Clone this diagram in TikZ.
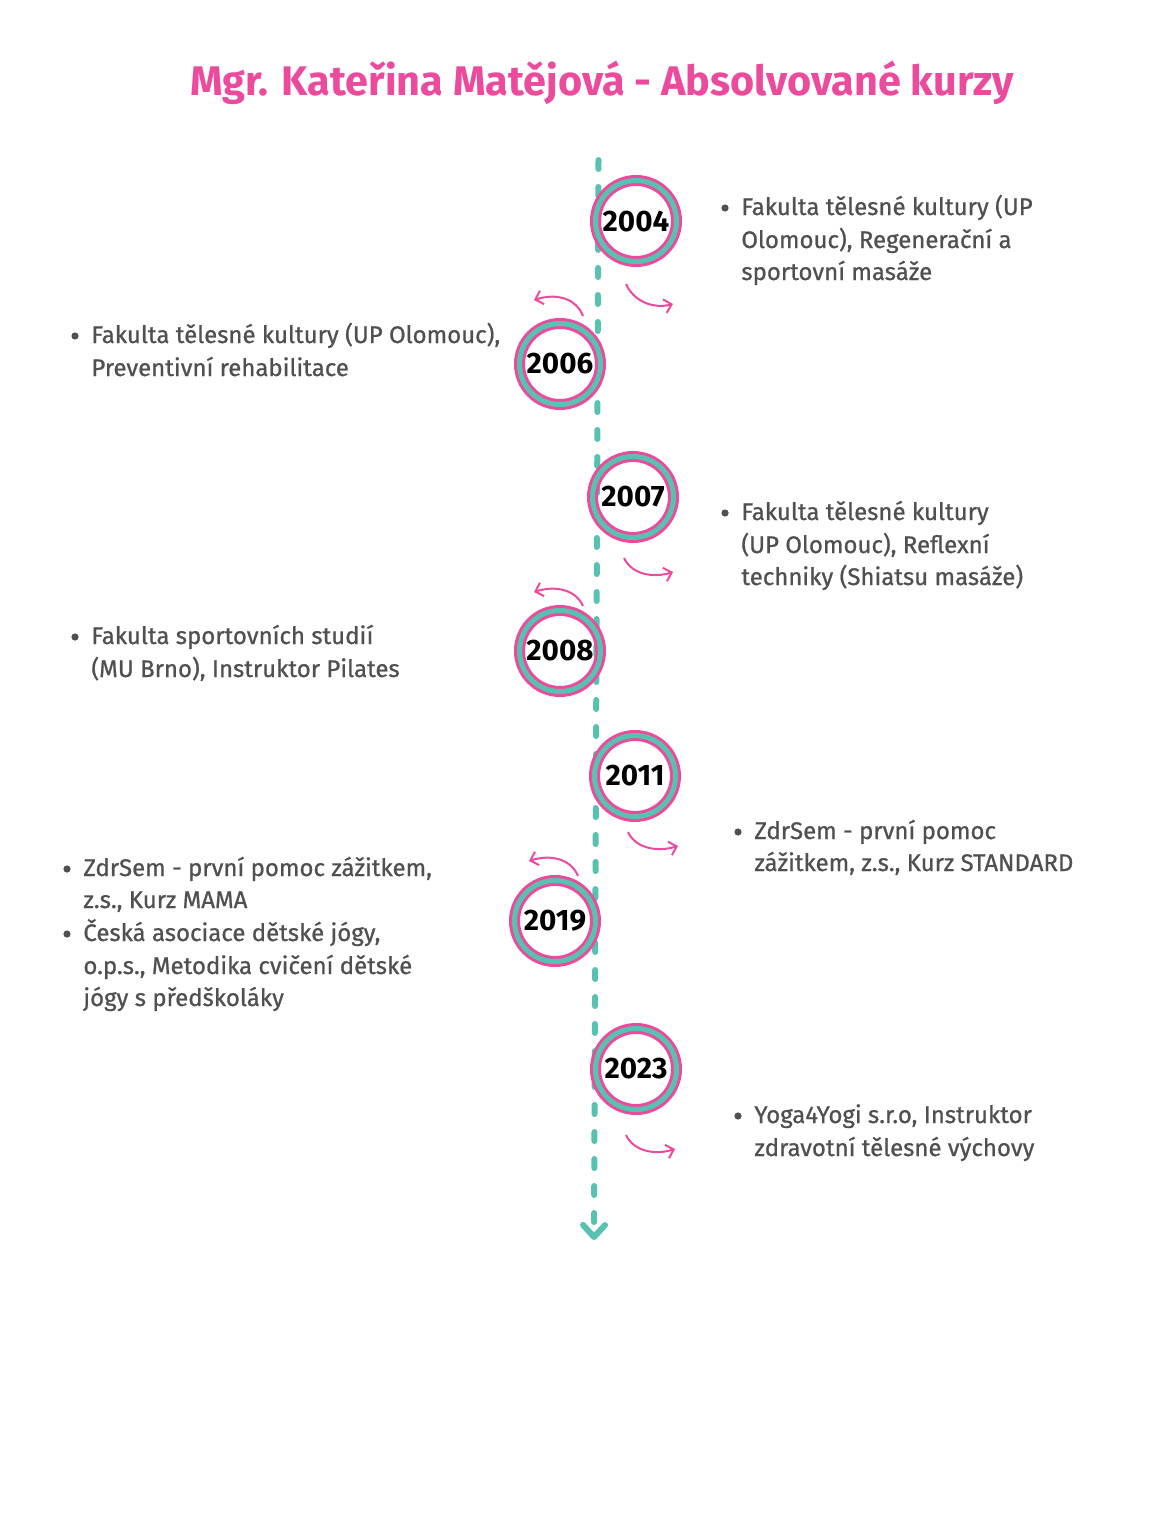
\documentclass[tikz,border=0pt]{standalone}
\usepackage{fontspec}
\setmainfont{Fira Sans}
\newfontfamily\bodyfont{Fira Sans}[FakeBold=0.8]
\usetikzlibrary{arrows.meta}
\definecolor{rosa}{HTML}{EC4A9C}
\definecolor{mint}{HTML}{58C2B1}
\definecolor{greytext}{HTML}{505050}
\tikzset{
  year/.style={circle, draw=rosa, line width=1.5pt, double=mint, double distance=2.5pt,
    minimum size=40.5pt, inner sep=0pt, font=\bfseries\fontsize{14.8}{14.8}\selectfont},
  line/.style={anchor=base west, inner sep=0pt, text=greytext, font=\bodyfont\fontsize{12}{16.5}\selectfont},
  dot/.style={circle, fill=greytext, inner sep=0pt, minimum size=3.6pt},
  swing/.style={draw=rosa, line width=1pt, -{Straight Barb[length=3.5pt, width=7pt, line width=1pt]}},
}
\begin{document}
\begin{tikzpicture}[x=0.5pt, y=-0.5pt]
\useasboundingbox[fill=white] (0,0) rectangle (1167,1536);

\node[anchor=base, inner sep=0pt, text=rosa, font=\bfseries\fontsize{20.7}{20.7}\selectfont] (title) at (602,96) {Mgr. Kateřina Matějová - Absolvované kurzy};

\coordinate (top) at (598.5,160);
\coordinate (bottom) at (594,1240);
\draw[mint, line width=3pt, line cap=round, dash pattern=on 4.5pt off 9pt,
  -{Straight Barb[length=6pt, width=11pt, line width=3pt, round]}] (top) -- (bottom);

\node[year] (y2004) at (636,221) {2004};
\node[year] (y2006) at (560,364) {2006};
\node[year] (y2007) at (633,497) {2007};
\node[year] (y2008) at (560,651) {2008};
\node[year] (y2011) at (635,776) {2011};
\node[year] (y2019) at (555,921) {2019};
\node[year] (y2023) at (636,1069) {2023};

\coordinate (s04) at (626,284);
\coordinate (e04) at (673,304);
\draw[swing] (s04) .. controls (634,302) and (654,309) .. (e04);
\coordinate (s06) at (583,316);
\coordinate (e06) at (534,300);
\draw[swing] (s06) .. controls (576,298) and (556,293) .. (e06);
\coordinate (s07) at (624,558);
\coordinate (e07) at (673,572);
\draw[swing] (s07) .. controls (632,575) and (654,578) .. (e07);
\coordinate (s08) at (583,606);
\coordinate (e08) at (534,592);
\draw[swing] (s08) .. controls (576,590) and (556,585) .. (e08);
\coordinate (s11) at (628,832);
\coordinate (e11) at (678,846);
\draw[swing] (s11) .. controls (636,849) and (658,852) .. (e11);
\coordinate (s19) at (578,876);
\coordinate (e19) at (529,861);
\draw[swing] (s19) .. controls (571,859) and (551,854) .. (e19);
\coordinate (s23) at (626,1135);
\coordinate (e23) at (675,1149);
\draw[swing] (s23) .. controls (634,1152) and (656,1155) .. (e23);

\node[dot] (b04) at (725,208) {};
\node[line] (t04a) at (741,215) {Fakulta tělesné kultury (UP};
\node[line] (t04b) at (741,248) {Olomouc), Regenerační a};
\node[line] (t04c) at (741,280) {sportovní masáže};

\node[dot] (b06) at (75,336) {};
\node[line] (t06a) at (91,343) {Fakulta tělesné kultury (UP Olomouc),};
\node[line] (t06b) at (91,376) {Preventivní rehabilitace};

\node[dot] (b07) at (725,513) {};
\node[line] (t07a) at (741,520) {Fakulta tělesné kultury};
\node[line] (t07b) at (741,553) {(UP Olomouc), Reflexní};
\node[line] (t07c) at (741,585) {techniky (Shiatsu masáže)};

\node[dot] (b08) at (75,637) {};
\node[line] (t08a) at (91,644) {Fakulta sportovních studií};
\node[line] (t08b) at (91,677) {(MU Brno), Instruktor Pilates};

\node[dot] (b11) at (738,832) {};
\node[line] (t11a) at (754,839) {ZdrSem - první pomoc};
\node[line] (t11b) at (754,871) {zážitkem, z.s., Kurz STANDARD};

\node[dot] (b19a) at (67,869) {};
\node[line] (t19a) at (83,876) {ZdrSem - první pomoc zážitkem,};
\node[line] (t19b) at (83,908) {z.s., Kurz MAMA};
\node[dot] (b19b) at (67,934) {};
\node[line] (t19c) at (83,941) {Česká asociace dětské jógy,};
\node[line] (t19d) at (83,974) {o.p.s., Metodika cvičení dětské};
\node[line] (t19e) at (83,1006) {jógy s předškoláky};

\node[dot] (b23) at (738,1116) {};
\node[line] (t23a) at (754,1123) {Yoga4Yogi s.r.o, Instruktor};
\node[line] (t23b) at (754,1156) {zdravotní tělesné výchovy};
\end{tikzpicture}
\end{document}
